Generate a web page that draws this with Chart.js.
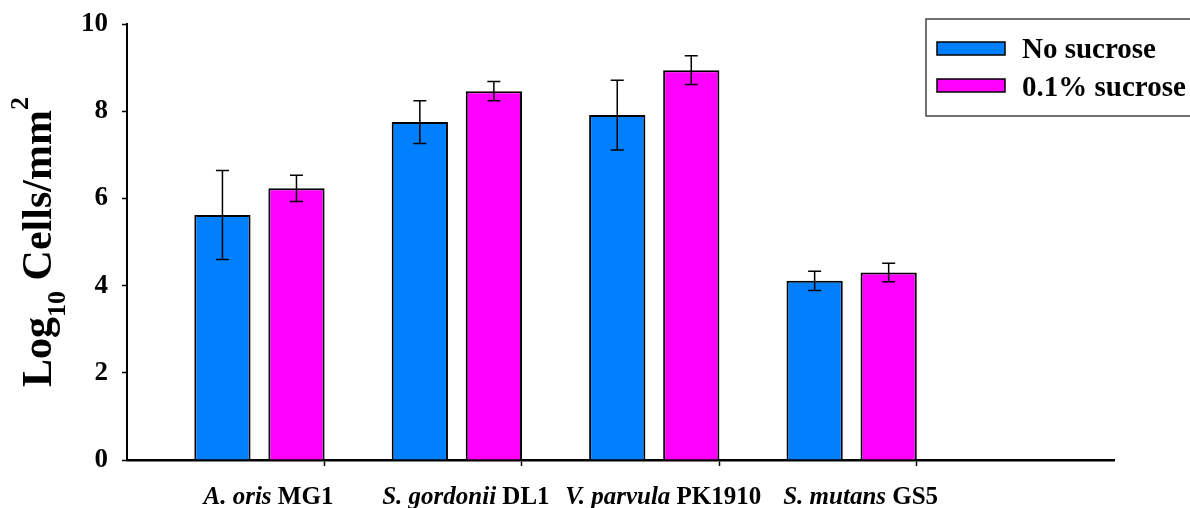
<!DOCTYPE html>
<html>
<head>
<meta charset="utf-8">
<script src="https://cdn.jsdelivr.net/npm/chart.js@4/dist/chart.umd.min.js"></script>
<style>
    html, body { margin: 0; padding: 0; background: #fff; }
    #wrap { width: 1190px; height: 508px; }
</style>
</head>
<body>
<div id="wrap"><canvas id="biofilmChart" width="1190" height="508"></canvas></div>
<script>
// values
const species = ['A. oris', 'S. gordonii', 'V. parvula', 'S. mutans'];
const strains = ['MG1', 'DL1', 'PK1910', 'GS5'];
const noSucrose = [5.62, 7.75, 7.91, 4.11];
const noSucroseErr = [1.02, 0.49, 0.80, 0.22];
const sucrose = [6.23, 8.46, 8.94, 4.30];
const sucroseErr = [0.30, 0.22, 0.33, 0.21];
const yTicks = [0, 2, 4, 6, 8, 10];
const seriesNames = ['No sucrose', '0.1% sucrose'];

(function () {
    const SERIF = '"Liberation Serif", "Times New Roman", Times, serif';
    const colors = ['#0080ff', '#ff00ff'];
    // Excel put 5 category slots on the axis, bars sit right-of-centre in each slot
    const slotCount = 5;
    const groupOffset = 0.671;

    const errors = [noSucroseErr, sucroseErr];

    const errorBars = {
        id: 'errorBars',
        afterDatasetsDraw(chart) {
            const { ctx } = chart;
            const y = chart.scales.y;
            ctx.save();
            ctx.strokeStyle = '#000';
            ctx.lineWidth = 1.5;
            chart.data.datasets.forEach((ds, di) => {
                const meta = chart.getDatasetMeta(di);
                meta.data.forEach((bar, i) => {
                    const v = ds.data[i].y;
                    const e = errors[di][i];
                    const top = y.getPixelForValue(v + e);
                    const bot = y.getPixelForValue(v - e);
                    const cap = 6.5;
                    ctx.beginPath();
                    ctx.moveTo(bar.x, top); ctx.lineTo(bar.x, bot);
                    ctx.moveTo(bar.x - cap, top); ctx.lineTo(bar.x + cap, top);
                    ctx.moveTo(bar.x - cap, bot); ctx.lineTo(bar.x + cap, bot);
                    ctx.stroke();
                });
            });
            ctx.restore();
        }
    };

    const decorations = {
        id: 'decorations',
        afterDraw(chart) {
            const { ctx, chartArea } = chart;
            const x = chart.scales.x;
            ctx.save();
            ctx.fillStyle = '#000';
            ctx.textBaseline = 'alphabetic';

            // category labels: italic species + upright strain
            const italic = `italic bold 25px ${SERIF}`;
            const bold = `bold 25px ${SERIF}`;
            species.forEach((sp, i) => {
                ctx.font = italic;
                const w1 = ctx.measureText(sp + ' ').width;
                ctx.font = bold;
                const w2 = ctx.measureText(strains[i]).width;
                const cx = x.getPixelForValue(i + groupOffset) + 9;
                const start = cx - (w1 + w2) / 2;
                ctx.textAlign = 'left';
                ctx.font = italic;
                ctx.fillText(sp + ' ', start, 504);
                ctx.font = bold;
                ctx.fillText(strains[i], start + w1, 504);
            });

            // y title: Log10 Cells/mm2
            const big = `bold 42px ${SERIF}`;
            const small = `bold 26px ${SERIF}`;
            const parts = [
                { t: 'Log', f: big, dy: 0 },
                { t: '10', f: small, dy: 14 },
                { t: ' Cells/mm', f: big, dy: 0 },
                { t: '2', f: small, dy: -23 },
            ];
            let total = 0;
            parts.forEach(p => { ctx.font = p.f; p.w = ctx.measureText(p.t).width; total += p.w; });
            const midY = (chartArea.top + chartArea.bottom) / 2;
            ctx.translate(51, midY);
            ctx.rotate(-Math.PI / 2);
            let px = -total / 2;
            ctx.textAlign = 'left';
            parts.forEach(p => {
                ctx.font = p.f;
                ctx.fillText(p.t, px, p.dy);
                px += p.w;
            });
            ctx.setTransform(1, 0, 0, 1, 0, 0);

            // legend box, runs off the right edge like the source
            const bx = chartArea.right - 188;
            const by = 19;
            ctx.strokeStyle = '#444';
            ctx.lineWidth = 1.5;
            ctx.strokeRect(bx, by, 300, 97);
            ctx.font = `bold 29px ${SERIF}`;
            seriesNames.forEach((name, i) => {
                const sy = by + 23 + i * 37;
                ctx.fillStyle = colors[i];
                ctx.fillRect(bx + 11, sy, 68, 13);
                ctx.strokeStyle = '#000';
                ctx.strokeRect(bx + 11, sy, 68, 13);
                ctx.fillStyle = '#000';
                ctx.fillText(name, bx + 96, sy + 16 + i * 1);
            });
            ctx.restore();
        }
    };

    const makeData = (vals) => vals.map((v, i) => ({ x: i + groupOffset, y: v }));

    new Chart(document.getElementById('biofilmChart'), {
        type: 'bar',
        data: {
            datasets: [
                {
                    label: seriesNames[0],
                    data: makeData(noSucrose),
                    backgroundColor: colors[0],
                    borderColor: '#000',
                    borderWidth: 2,
                },
                {
                    label: seriesNames[1],
                    data: makeData(sucrose),
                    backgroundColor: colors[1],
                    borderColor: '#000',
                    borderWidth: 2,
                },
            ],
        },
        options: {
            responsive: false,
            animation: false,
            events: [],
            categoryPercentage: 0.75,
            barPercentage: 0.76,
            layout: { padding: { top: 24, right: 76, left: 0, bottom: 0 } },
            plugins: {
                legend: { display: false },
                tooltip: { enabled: false },
            },
            scales: {
                x: {
                    type: 'linear',
                    offset: false,
                    min: 0,
                    max: slotCount,
                    afterBuildTicks: (s) => {
                        s.ticks = [1, 2, 3, 4].map(v => ({ value: v }));
                    },
                    afterFit: (s) => {
                        s.height = 48;
                        s.paddingLeft = 0;
                        s.paddingRight = 0;
                    },
                    ticks: { autoSkip: false, callback: () => '' },
                    grid: {
                        offset: false,
                        drawOnChartArea: false,
                        tickLength: 6,
                        tickColor: '#000',
                        tickWidth: 1.5,
                    },
                    border: { display: true, color: '#000', width: 2.5 },
                },
                y: {
                    min: 0,
                    max: 10,
                    afterBuildTicks: (s) => {
                        s.ticks = yTicks.map(v => ({ value: v }));
                    },
                    afterFit: (s) => {
                        s.width = 127;
                        s.paddingTop = 0;
                        s.paddingBottom = 0;
                    },
                    ticks: {
                        color: '#000',
                        padding: 14,
                        font: { family: SERIF, size: 27, weight: 'bold' },
                    },
                    grid: {
                        drawOnChartArea: false,
                        tickLength: 5,
                        tickColor: '#000',
                        tickWidth: 1.5,
                    },
                    border: { display: true, color: '#000', width: 2 },
                },
            },
        },
        plugins: [errorBars, decorations],
    });
})();
</script>
</body>
</html>
